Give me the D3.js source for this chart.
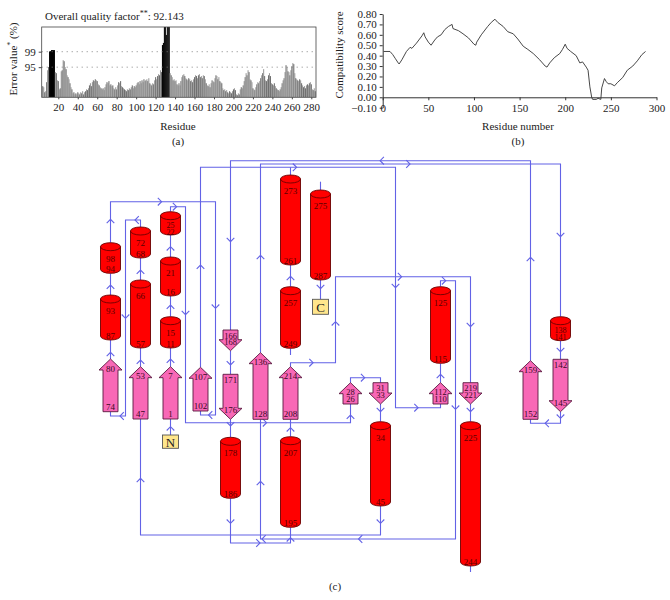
<!DOCTYPE html>
<html><head><meta charset="utf-8">
<script src="https://cdn.jsdelivr.net/npm/d3@7"></script>
<style>body{margin:0;background:#fff}</style>
</head><body><svg id="c" width="670" height="600"></svg>
<script>
// ---------- DATA ----------
// Panel (a): ERRAT error values per residue
const errResidues = d3.range(4, 285);
const errValues = [
 4.2,3.8,1.9,2.3,5.7,10.2,11.4,17.3,17.4,17.8,
 17.8,17.8,17.8,9.5,9.1,6.4,6.1,3.0,3.4,9.8,
 10.2,14.0,13.6,11.4,10.6,8.3,7.6,6.8,5.3,3.8,
 3.0,1.5,1.9,1.1,1.5,1.1,1.9,1.5,1.1,1.9,
 1.5,2.3,1.1,1.9,2.3,3.0,2.7,3.4,4.5,5.3,
 4.2,5.7,6.4,6.1,6.8,6.4,6.1,4.9,4.5,3.8,
 3.4,3.0,3.4,2.7,3.8,4.9,5.7,5.3,6.1,4.5,
 4.9,4.2,4.5,3.4,3.0,3.8,3.0,4.5,5.7,5.3,
 6.1,4.2,3.8,3.4,3.0,2.7,2.3,3.0,2.7,3.4,
 3.0,3.8,4.5,3.4,4.2,3.8,4.5,5.3,5.7,4.9,
 6.1,5.3,6.4,5.7,6.8,6.1,6.4,6.8,6.1,7.2,
 5.3,4.9,4.5,5.3,4.9,6.4,7.6,6.8,8.0,8.7,
 8.3,10.2,9.5,19.7,20.5,28,28,23.5,28,28,
 28,9.1,8.3,7.6,6.4,6.8,6.1,6.4,4.9,4.5,
 5.3,4.5,6.1,7.6,8.3,8.7,8.0,7.2,6.8,6.4,
 7.2,6.8,6.1,6.4,5.7,6.8,7.6,8.3,8.0,7.2,
 8.3,8.7,7.6,8.0,7.2,8.3,8.0,6.8,5.3,4.5,
 4.2,4.9,3.8,5.3,6.4,6.1,5.7,7.2,8.3,8.0,
 6.8,7.6,6.1,5.7,5.3,3.4,2.7,3.0,2.3,2.7,
 1.9,1.5,2.3,1.9,1.5,2.3,3.0,3.4,2.7,1.1,
 0.8,1.5,1.1,3.0,3.8,3.4,4.5,6.1,7.6,9.1,
 8.3,10.2,9.5,6.8,6.4,5.7,3.4,3.0,2.7,3.8,
 4.9,5.7,5.3,6.1,7.2,8.3,9.1,10.6,8.0,6.4,
 6.1,6.8,8.3,9.1,8.0,5.3,4.9,4.5,5.3,4.2,
 3.4,3.0,2.7,2.3,3.0,3.8,5.3,6.4,7.2,9.5,
 12.1,11.4,9.8,9.5,8.3,10.2,11.7,12.9,12.5,9.1,
 7.2,6.8,6.4,6.1,6.8,6.4,5.3,4.5,3.8,4.2,
 3.4,4.5,4.9,4.5,5.3,5.7,4.9,3.0,2.7,3.4,2.3
];
const errTicks = [20,40,60,80,100,120,140,160,180,200,220,240,260,280];
const errLevelLabels = ["99","95"];
const errLevelValues = [17.19, 11.36];

// Panel (b): compatibility score
const compatResidues = [1,8,11,14,17,18,21,26,30,32,37,43,45,46.5,50,53,57,60,64,68,72,76,77,83,88,94,100,102,103,108,115,119,123,126,132,137,143,148,154,159,165,172,178,180,183,188,194,197,200,202,206,212,216,219,223,225,227,229,230,234,236,239,240,243,245,247,250,254,257,263,268,274,279,284,288];
const compatScores = [0.44,0.44,0.41,0.37,0.33,0.32,0.36,0.44,0.48,0.47,0.52,0.59,0.62,0.58,0.53,0.50,0.55,0.58,0.60,0.65,0.68,0.70,0.66,0.64,0.61,0.57,0.51,0.50,0.53,0.60,0.68,0.72,0.75,0.72,0.68,0.63,0.61,0.56,0.49,0.46,0.42,0.36,0.30,0.29,0.33,0.38,0.42,0.46,0.51,0.47,0.44,0.40,0.33,0.34,0.29,0.26,0.10,0.00,-0.02,-0.02,-0.01,-0.02,0.09,0.18,0.15,0.13,0.13,0.11,0.14,0.19,0.26,0.30,0.35,0.41,0.44];
const compatYTicks = [-0.1,0,0.1,0.2,0.3,0.4,0.5,0.6,0.7,0.8];
const compatXTicks = [0,50,100,150,200,250,300];

// Panel (c): topology (column index, diagram row units)
const helices = [ // [upper label, lower label, column, top, bottom]
 [98,94,0,92.7,123.3],[93,87,0,145,190],[72,68,1,77,108],[66,57,1,130,198],
 [25,22,2,61.7,85],[21,16,2,107,146],[15,11,2,166.7,198],[178,186,4,287.3,348.3],
 [273,261,6,25,115],[257,249,6,136.7,198.3],[207,195,6,286.7,377.3],[275,287,7,40,130],
 [34,45,9,271.7,356],[125,115,11,136.7,213.3],[225,244,12,271.7,416],[138,141,15,166.7,190.7]
];
const strands = [ // [upper label, lower label, column, direction, top, bottom]
 [80,74,0,"up",209,261.7],[53,47,1,"up",216.7,269],[7,1,2,"up",216.7,269],
 [107,102,3,"up",217.3,261],[166,168,4,"down",180,200.7],[171,176,4,"down",224.3,269.3],
 [136,128,5,"up",202.7,269.3],[214,208,6,"up",216.7,269.3],[28,26,8,"up",232.7,254],
 [31,33,9,"down",232.7,254],[112,110,11,"up",232.7,254],[219,221,12,"down",232.7,254],
 [159,152,14,"up",210.7,269.3],[142,145,15,"down",209.3,261.7]
];
const termini = [["N",2,285,298.3],["C",7,149.3,164.3]];
const connections = [
 [[2,285],[2,269]],[[2,216.7],[2,198]],[[2,166.7],[2,146]],[[2,107],[2,85]],
 [[2,61.7],[2,56.7],[2.5,56.7],[2.5,272.7],[8,272.7],[8,254]],
 [[8,232.7],[8,227.7],[9,227.7],[9,232.7]],
 [[9,254],[9,271.7]],
 [[9,356],[9,385],[1,385],[1,269]],
 [[1,216.7],[1,198]],[[1,130],[1,108]],
 [[1,77],[1,70],[0.5,70],[0.5,266],[0,266],[0,261.7]],
 [[0,209],[0,190]],[[0,145],[0,123.3]],
 [[0,92.7],[0,51.7],[3.5,51.7],[3.5,265],[3,265],[3,261]],
 [[3,217.3],[3,17.3],[9.5,17.3],[9.5,257.7],[11,257.7],[11,254]],
 [[11,232.7],[11,213.3]],
 [[11,136.7],[11,130.7],[11.5,130.7],[11.5,389],[5,389],[5,269.3]],
 [[5,202.7],[5,14],[15,14],[15,166.7]],
 [[15,190.7],[15,209.3]],
 [[15,261.7],[15,273.3],[14,273.3],[14,269.3]],
 [[14,210.7],[14,10.7],[4,10.7],[4,180]],
 [[4,200.7],[4,224.3]],[[4,269.3],[4,287.3]],
 [[4,348.3],[4,393],[6,393],[6,377.3]],
 [[6,286.7],[6,269.3]],
 [[6,216.7],[6,212.7],[7.5,212.7],[7.5,126.7],[12,126.7],[12,232.7]],
 [[12,254],[12,271.7]],[[12,416],[12,422]],[[6,198.3],[6,205]],
 [[6,136.7],[6,115]],[[6,25],[6,17.3]],[[7,40],[7,31.7]],[[7,130],[7,149.3]]
];
const chevrons = [
 [2,278.3,"up"],[2,210.7,"up"],[2,156.7,"up"],[2,98.3,"up"],
 [2.15,56.7,"right"],[2.5,163,"down"],[5.15,272.7,"right"],[8,266.7,"up"],
 [8.42,227.7,"right"],[9,260,"down"],[9,371.7,"down"],[1,330,"up"],
 [1,211.7,"up"],[1,121.7,"up"],[0.87,70,"left"],[0.5,166.7,"down"],[0.37,266,"left"],
 [0,204,"up"],[0,136.7,"up"],[0,71,"up"],[1.65,51.7,"right"],[3.5,156.7,"down"],[3.32,265,"left"],
 [3,116.7,"up"],[6.15,17.3,"right"],[9.5,136,"down"],[10.2,257.7,"right"],
 [11,226,"up"],[11.12,130.7,"right"],[11.5,257.7,"down"],[8.32,389,"left"],[5.1,389,"left"],[5,333,"up"],
 [5,107,"up"],[9.93,14,"right"],[15,85,"down"],[15,200,"down"],
 [15,266.7,"down"],[14.54,273.3,"left"],[14,109,"up"],[9.04,10.7,"left"],[4,90,"down"],
 [4,213.3,"down"],[4,274.3,"down"],[4,371.7,"down"],[4.93,393,"right"],[6,389.3,"up"],
 [6,279.3,"up"],[6.7,212.7,"right"],[7.5,173.3,"up"],[9.65,126.7,"right"],[12,175,"down"],
 [12,260,"down"],[6,128,"up"],[7,137,"down"]
];

// ---------- DRAW ----------
const SERIF = '"Liberation Serif","Times New Roman",serif';
const svg = d3.select("#c");
svg.append("rect").attr("width",670).attr("height",600).attr("fill","#fff");
const ink = "#222";

// ===== Panel (a) =====
const fA = {l:41.7, r:316, t:27, b:97.3};
const xA = d3.scaleLinear().domain([20,280]).range([58.3,311.3]);
const yA = d3.scaleLinear().domain([0,26.5]).range([fA.b,fA.t]);
const gA = svg.append("g");
gA.append("clipPath").attr("id","clipA").append("rect")
  .attr("x",fA.l).attr("y",fA.t).attr("width",fA.r-fA.l).attr("height",fA.b-fA.t);
gA.append("g").attr("clip-path","url(#clipA)")
  .selectAll("rect").data(errResidues).join("rect")
  .attr("x",r=>xA(r)-0.5).attr("width",1.05)
  .attr("y",(r,i)=>yA(errValues[i])).attr("height",(r,i)=>yA(0)-yA(errValues[i]))
  .attr("fill",(r,i)=>errValues[i]>errLevelValues[0]?"#000":(i%2?"#999":"#6e6e6e"));
gA.selectAll("line.lvl").data(errLevelValues).join("line").attr("class","lvl")
  .attr("x1",fA.l).attr("x2",fA.r).attr("y1",d=>yA(d)).attr("y2",d=>yA(d))
  .attr("stroke","#777").attr("stroke-width",0.9).attr("stroke-dasharray","1,4");
gA.append("rect").attr("x",fA.l).attr("y",fA.t).attr("width",fA.r-fA.l).attr("height",fA.b-fA.t)
  .attr("fill","none").attr("stroke","#444").attr("stroke-width",0.8);
const axA = gA.append("g").attr("transform",`translate(0,${fA.b})`)
  .call(d3.axisBottom(xA).tickValues(errTicks).tickSize(2).tickPadding(4));
axA.select(".domain").remove();
axA.attr("font-family",SERIF).attr("font-size",11);
axA.selectAll("text").attr("fill",ink);
axA.selectAll("line").attr("stroke","#444");
const ayA = gA.append("g").attr("transform",`translate(${fA.l},0)`)
  .call(d3.axisLeft(yA).tickValues(errLevelValues).tickFormat((d,i)=>errLevelLabels[i]).tickSize(3).tickPadding(3));
ayA.select(".domain").remove();
ayA.attr("font-family",SERIF).attr("font-size",11);
ayA.selectAll("text").attr("fill",ink);
ayA.selectAll("line").attr("stroke","#444");
const tA = gA.append("text").attr("x",45).attr("y",19.5).attr("font-family",SERIF).attr("font-size",11).attr("fill",ink);
tA.append("tspan").text("Overall quality factor");
tA.append("tspan").attr("dy",-4).attr("font-size",8).text("**");
tA.append("tspan").attr("dy",4).text(": 92.143");
const ylA = gA.append("text").attr("transform","translate(17,59) rotate(-90)").attr("text-anchor","middle")
  .attr("font-family",SERIF).attr("font-size",11).attr("fill",ink);
ylA.append("tspan").text("Error value");
ylA.append("tspan").attr("dy",-4).attr("font-size",8).text("*");
ylA.append("tspan").attr("dy",4).text(" (%)");
gA.append("text").attr("x",178).attr("y",130).attr("text-anchor","middle").attr("font-family",SERIF).attr("font-size",11).attr("fill",ink).text("Residue");
gA.append("text").attr("x",178).attr("y",145).attr("text-anchor","middle").attr("font-family",SERIF).attr("font-size",11).attr("fill",ink).text("(a)");

// ===== Panel (b) =====
const xB = d3.scaleLinear().domain([0,300]).range([382.7,656.5]);
const yB = d3.scaleLinear().domain([-0.1,0.8]).range([107.7,14]);
const gB = svg.append("g");
const ayB = gB.append("g").attr("transform",`translate(${xB(0)},0)`)
  .call(d3.axisLeft(yB).tickValues(compatYTicks).tickFormat(d3.format(".2f")).tickSize(3).tickPadding(3).tickSizeOuter(0));
ayB.attr("font-family",SERIF).attr("font-size",11);
ayB.selectAll("text").attr("fill",ink);
ayB.selectAll("line,path").attr("stroke","#333");
const axB = gB.append("g").attr("transform",`translate(0,${yB(0)})`)
  .call(d3.axisBottom(xB).tickValues(compatXTicks).tickSize(3).tickPadding(4).tickSizeOuter(0));
axB.attr("font-family",SERIF).attr("font-size",11);
axB.selectAll("text").attr("fill",ink);
axB.selectAll("line,path").attr("stroke","#333");
gB.append("path").datum(compatResidues)
  .attr("d",d3.line().x(r=>xB(r)).y((r,i)=>yB(compatScores[i])))
  .attr("fill","none").attr("stroke","#333").attr("stroke-width",0.9);
gB.append("text").attr("transform","translate(343,55) rotate(-90)").attr("text-anchor","middle")
  .attr("font-family",SERIF).attr("font-size",11).attr("fill",ink).text("Compatibility score");
gB.append("text").attr("x",518).attr("y",130).attr("text-anchor","middle").attr("font-family",SERIF).attr("font-size",11).attr("fill",ink).text("Residue number");
gB.append("text").attr("x",518).attr("y",145).attr("text-anchor","middle").attr("font-family",SERIF).attr("font-size",11).attr("fill",ink).text("(b)");

// ===== Panel (c) =====
const xC = d3.scaleLinear().domain([0,15]).range([110.5,560.5]);
const yC = d3.scaleLinear().domain([0,430]).range([150,580]);
const gC = svg.append("g");
const blue = "#6262e6";
const lineGen = d3.line().x(p=>xC(p[0])).y(p=>yC(p[1]));
gC.append("g").selectAll("path").data(connections).join("path")
  .attr("d",lineGen).attr("fill","none").attr("stroke",blue).attr("stroke-width",1.1);
const chevShape = {up:"M-3.8,2.2L0,-1.6L3.8,2.2",down:"M-3.8,-2.2L0,1.6L3.8,-2.2",
  right:"M-2.2,-3.8L1.6,0L-2.2,3.8",left:"M2.2,-3.8L-1.6,0L2.2,3.8"};
gC.append("g").selectAll("path").data(chevrons).join("path")
  .attr("transform",d=>`translate(${xC(d[0])},${yC(d[1])})`)
  .attr("d",d=>chevShape[d[2]]).attr("fill","none").attr("stroke",blue).attr("stroke-width",1.1);

// helices
const hw = 10, ry = 4;
const shortEl = (t,b)=> (yC(b)-yC(t)) < 30;
const hg = gC.append("g").selectAll("g").data(helices).join("g");
hg.append("path").attr("d",d=>{
  const cx=xC(d[2]), t=yC(d[3])+ry, b=yC(d[4])-ry;
  return `M${cx-hw},${t}L${cx-hw},${b}A${hw},${ry} 0 0 0 ${cx+hw},${b}L${cx+hw},${t}Z`;
}).attr("fill","#ff0000").attr("stroke","#6a0000").attr("stroke-width",0.9);
hg.append("ellipse").attr("cx",d=>xC(d[2])).attr("cy",d=>yC(d[3])+ry).attr("rx",hw).attr("ry",ry)
  .attr("fill","#ff0000").attr("stroke","#6a0000").attr("stroke-width",0.9);
hg.append("text").attr("x",d=>xC(d[2])).attr("y",d=>shortEl(d[3],d[4])?yC(d[3])+14:yC(d[3])+16).text(d=>d[0]);
hg.append("text").attr("x",d=>xC(d[2])).attr("y",d=>shortEl(d[3],d[4])?yC(d[4])-3:yC(d[4])-4).text(d=>d[1]);
hg.selectAll("text").attr("text-anchor","middle").attr("dominant-baseline","central")
  .attr("font-family",SERIF).attr("font-size",d=>shortEl(d[3],d[4])?8:9).attr("fill","#5a0000");

// strands
const bw = 7.5, aw = 11.5, ah = 11;
const sg = gC.append("g").selectAll("g").data(strands).join("g");
sg.append("path").attr("d",d=>{
  const cx=xC(d[2]), t=yC(d[4]), b=yC(d[5]);
  if(d[3]==="up") return `M${cx-bw},${b}L${cx-bw},${t+ah}L${cx-aw},${t+ah}L${cx},${t}L${cx+aw},${t+ah}L${cx+bw},${t+ah}L${cx+bw},${b}Z`;
  return `M${cx-bw},${t}L${cx+bw},${t}L${cx+bw},${b-ah}L${cx+aw},${b-ah}L${cx},${b}L${cx-aw},${b-ah}L${cx-bw},${b-ah}Z`;
}).attr("fill","#f868b6").attr("stroke","#5a1a40").attr("stroke-width",0.9);
sg.append("text").attr("x",d=>xC(d[2])).attr("y",d=>d[3]==="up"?yC(d[4])+9.5:yC(d[4])+5.5).text(d=>d[0]);
sg.append("text").attr("x",d=>xC(d[2])).attr("y",d=>d[3]==="up"?yC(d[5])-5:yC(d[5])-9).text(d=>d[1]);
sg.selectAll("text").attr("text-anchor","middle").attr("dominant-baseline","central")
  .attr("font-family",SERIF).attr("font-size",d=>shortEl(d[4],d[5])?8.5:9).attr("fill","#3a0a25");

// termini
const tg = gC.append("g").selectAll("g").data(termini).join("g");
tg.append("rect").attr("x",d=>xC(d[1])-8).attr("y",d=>yC(d[2])).attr("width",16).attr("height",d=>yC(d[3])-yC(d[2]))
  .attr("fill","#ffe68c").attr("stroke","#555").attr("stroke-width",0.9);
tg.append("text").attr("x",d=>xC(d[1])).attr("y",d=>(yC(d[2])+yC(d[3]))/2+0.5).attr("text-anchor","middle")
  .attr("dominant-baseline","central").attr("font-family",SERIF).attr("font-size",13).attr("fill","#222").text(d=>d[0]);

svg.append("text").attr("x",335).attr("y",590).attr("text-anchor","middle").attr("font-family",SERIF)
  .attr("font-size",11).attr("fill",ink).text("(c)");
</script></body></html>
